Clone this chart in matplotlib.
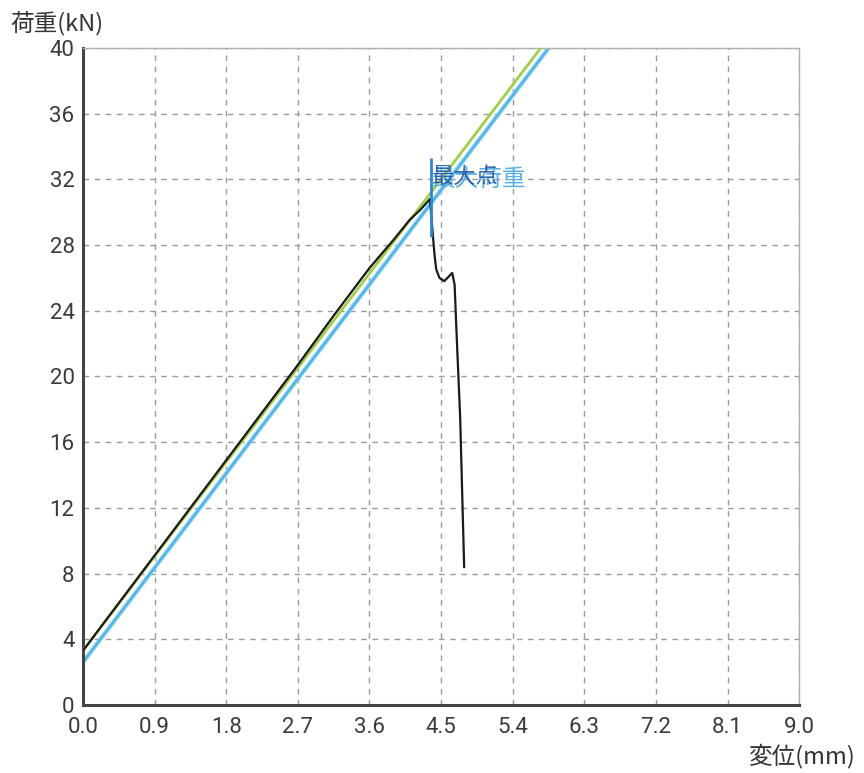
import numpy as np
import matplotlib.pyplot as plt

plt.rcParams['font.family'] = ['Roboto', 'Noto Sans CJK JP', 'DejaVu Sans']

# Measured load curve (displacement mm, load kN)
disp = [0.0, 0.45, 0.9, 1.35, 1.8, 2.25, 2.7, 3.15, 3.6, 3.9, 4.1, 4.25, 4.36,
        4.38, 4.40, 4.42, 4.44, 4.48, 4.54, 4.60, 4.64, 4.67, 4.70, 4.74, 4.79]
load = [3.3, 6.2, 9.1, 12.0, 14.9, 17.8, 20.7, 23.7, 26.6, 28.3, 29.5, 30.2, 30.8,
        29.6, 28.4, 27.3, 26.5, 26.0, 25.8, 26.1, 26.3, 25.6, 22.0, 17.5, 8.4]

# Reference straight lines (intercept kN, slope kN/mm)
green_line = (3.3, 6.38)
blue_line = (2.6, 6.39)

# Max point marker
max_x = 4.37
max_span = (28.5, 33.3)

x_ticks = np.arange(0, 9.01, 0.9)
y_ticks = np.arange(0, 41, 4)

fig = plt.figure(figsize=(8.64, 7.73), dpi=100)
ax = fig.add_axes([0.096, 0.088, 0.829, 0.850])

xx = np.array([0.0, 9.0])
ax.plot(xx, blue_line[0] + blue_line[1] * xx, color='#6fd0f2', lw=3.0, zorder=2)
ax.plot(xx, blue_line[0] + blue_line[1] * xx, color='#5a9ad8', lw=0.8, zorder=2)
ax.plot(xx, green_line[0] + green_line[1] * xx, color='#9fcf4a', lw=2.0, zorder=3)
ax.plot(disp, load, color='#1a1a1a', lw=1.6, zorder=4)

ax.vlines(max_x, *max_span, color='#2f86d6', lw=2.0, zorder=5)
ax.text(4.39, 32.0, '最大荷重', color='#5ab0e4', fontsize=17, va='center',
        family=['Noto Sans CJK JP'], zorder=6)
ax.text(4.39, 32.2, '最大点', color='#1f4f9a', fontsize=16, va='center',
        family=['Noto Sans CJK JP'], zorder=6, alpha=0.85)

ax.set_xlim(0, 9.0)
ax.set_ylim(0, 40)
ax.set_xticks(x_ticks)
ax.set_xticklabels([f'{v:.1f}' for v in x_ticks])
ax.set_yticks(y_ticks)
ax.set_yticklabels([f'{v:d}' for v in y_ticks])
ax.tick_params(length=0, labelsize=16, labelcolor='#3a3a3a')
ax.tick_params(axis='x', pad=9)
ax.tick_params(axis='y', pad=6)
ax.grid(True, color='#9a9a9a', ls=(0, (4, 4)), lw=1.0)
ax.set_axisbelow(True)

for side in ['left', 'bottom']:
    ax.spines[side].set_color('#444444')
    ax.spines[side].set_linewidth(2.2)
for side in ['top', 'right']:
    ax.spines[side].set_color('#b0b0b0')
    ax.spines[side].set_linewidth(1.0)

fig.text(0.012, 0.985, '荷重(kN)', fontsize=17, color='#333333', va='top',
         family=['Noto Sans CJK JP'])
fig.text(0.99, 0.006, '変位(mm)', fontsize=17, color='#333333', ha='right',
         va='bottom', family=['Noto Sans CJK JP'])

fig.savefig('out.png', dpi=100, facecolor='white')
